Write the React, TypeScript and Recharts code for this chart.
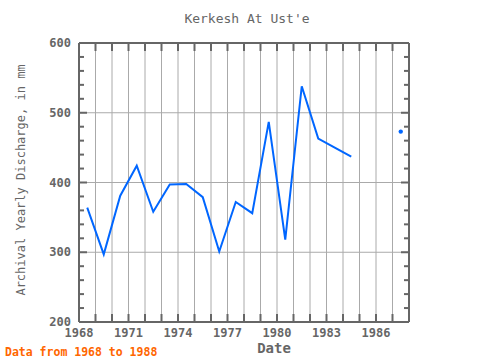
import React from 'react';
import { LineChart, Line, XAxis, YAxis, CartesianGrid } from 'recharts';

const dates = [1968.5, 1969.5, 1970.5, 1971.5, 1972.5, 1973.5, 1974.5, 1975.5, 1976.5, 1977.5, 1978.5, 1979.5, 1980.5, 1981.5, 1982.5, 1983.5, 1984.5, 1985.5, 1986.5, 1987.5];
const discharge: (number | null)[] = [364, 297, 381, 424, 358, 397, 398, 379, 301, 372, 356, 487, 318, 538, 463, 450, 437, null, null, 473];
const xTickLabels = [1968, 1971, 1974, 1977, 1980, 1983, 1986];
const xTickYears = [1968, 1969, 1970, 1971, 1972, 1973, 1974, 1975, 1976, 1977, 1978, 1979, 1980, 1981, 1982, 1983, 1984, 1985, 1986, 1987, 1988];
const yTickLabels = [200, 300, 400, 500, 600];
const yMinorTicks = [200, 220, 240, 260, 280, 300, 320, 340, 360, 380, 400, 420, 440, 460, 480, 500, 520, 540, 560, 580, 600];
const yGridValues = [300, 400, 500];

const data = dates.map((d, i) => ({ date: d, value: discharge[i] }));

const FONT = '"DejaVu Sans Mono", monospace';
const AXIS = '#666666';
const BLUE = '#0066ff';

const BottomTick = (props: any) => {
  const { x, y, payload } = props;
  const show = xTickLabels.includes(payload.value);
  return (
    <g>
      <line x1={x} x2={x} y1={y} y2={y - 8} stroke={AXIS} strokeWidth={2} />
      {show && (
        <text x={x} y={y + 15} textAnchor="middle" fontFamily={FONT} fontSize={12} fontWeight="bold" fill={AXIS}>
          {payload.value}
        </text>
      )}
    </g>
  );
};

const TopTick = (props: any) => {
  const { x, y } = props;
  return <line x1={x} x2={x} y1={y} y2={y + 8} stroke={AXIS} strokeWidth={2} />;
};

const LeftTick = (props: any) => {
  const { x, y, payload } = props;
  const major = yTickLabels.includes(payload.value);
  return (
    <g>
      <line x1={x} x2={x + (major ? 8 : 5)} y1={y} y2={y} stroke={AXIS} strokeWidth={2} />
      {major && (
        <text x={x - 8} y={y + 4} textAnchor="end" fontFamily={FONT} fontSize={12} fontWeight="bold" fill={AXIS}>
          {payload.value}
        </text>
      )}
    </g>
  );
};

const RightTick = (props: any) => {
  const { x, y, payload } = props;
  const major = yTickLabels.includes(payload.value);
  return <line x1={x} x2={x - (major ? 8 : 5)} y1={y} y2={y} stroke={AXIS} strokeWidth={2} />;
};

const IsolatedDot = (props: any) => {
  const { cx, cy, index } = props;
  const cur = discharge[index];
  const prev = index > 0 ? discharge[index - 1] : null;
  const next = index < discharge.length - 1 ? discharge[index + 1] : null;
  if (cur != null && prev == null && next == null) {
    return <circle key={`d${index}`} cx={cx} cy={cy} r={2.2} fill={BLUE} stroke="none" />;
  }
  return <g key={`d${index}`} />;
};

export default function App() {
  return (
    <div style={{ position: 'absolute', left: 0, top: 0, width: 480, height: 360, background: '#fff' }}>
      <LineChart width={480} height={360} data={data} margin={{ top: 33, right: 0, bottom: 18, left: 0 }}>
        <CartesianGrid
          stroke="#aaaaaa"
          strokeWidth={1}
          verticalValues={xTickYears}
          horizontalValues={yGridValues}
        />
        <XAxis
          dataKey="date"
          type="number"
          domain={[1968, 1988]}
          ticks={xTickYears}
          interval={0}
          height={20}
          tickSize={0}
          tickMargin={0}
          tickLine={false}
          axisLine={{ stroke: AXIS, strokeWidth: 2 }}
          tick={<BottomTick />}
          allowDataOverflow
        />
        <XAxis
          xAxisId="top"
          orientation="top"
          dataKey="date"
          type="number"
          domain={[1968, 1988]}
          ticks={xTickYears}
          interval={0}
          height={10}
          tickSize={0}
          tickMargin={0}
          tickLine={false}
          axisLine={{ stroke: AXIS, strokeWidth: 2 }}
          tick={<TopTick />}
          allowDataOverflow
        />
        <YAxis
          type="number"
          domain={[200, 600]}
          ticks={yMinorTicks}
          interval={0}
          width={79}
          tickSize={0}
          tickMargin={0}
          tickLine={false}
          axisLine={{ stroke: AXIS, strokeWidth: 2 }}
          tick={<LeftTick />}
          allowDataOverflow
        />
        <YAxis
          yAxisId="right"
          orientation="right"
          type="number"
          domain={[200, 600]}
          ticks={yMinorTicks}
          interval={0}
          width={71}
          tickSize={0}
          tickMargin={0}
          tickLine={false}
          axisLine={{ stroke: AXIS, strokeWidth: 2 }}
          tick={<RightTick />}
          allowDataOverflow
        />
        <Line
          type="linear"
          dataKey="value"
          stroke={BLUE}
          strokeWidth={2}
          dot={IsolatedDot}
          activeDot={false}
          connectNulls={false}
          isAnimationActive={false}
        />
      </LineChart>
      <svg width={480} height={360} style={{ position: 'absolute', left: 0, top: 0, pointerEvents: 'none' }}>
        <text x={247} y={23} textAnchor="middle" fontFamily={FONT} fontSize={13} fill={AXIS}>
          Kerkesh At Ust'e
        </text>
        <text
          x={25}
          y={180}
          textAnchor="middle"
          transform="rotate(-90 25 180)"
          fontFamily={FONT}
          fontSize={12}
          fill={AXIS}
        >
          Archival Yearly Discharge, in mm
        </text>
        <text x={274} y={353} textAnchor="middle" fontFamily={FONT} fontSize={14} fontWeight="bold" fill={AXIS}>
          Date
        </text>
        <text x={5} y={356} textAnchor="start" fontFamily={FONT} fontSize={11.5} fontWeight="bold" fill="#ff6600">
          Data from 1968 to 1988
        </text>
      </svg>
    </div>
  );
}
